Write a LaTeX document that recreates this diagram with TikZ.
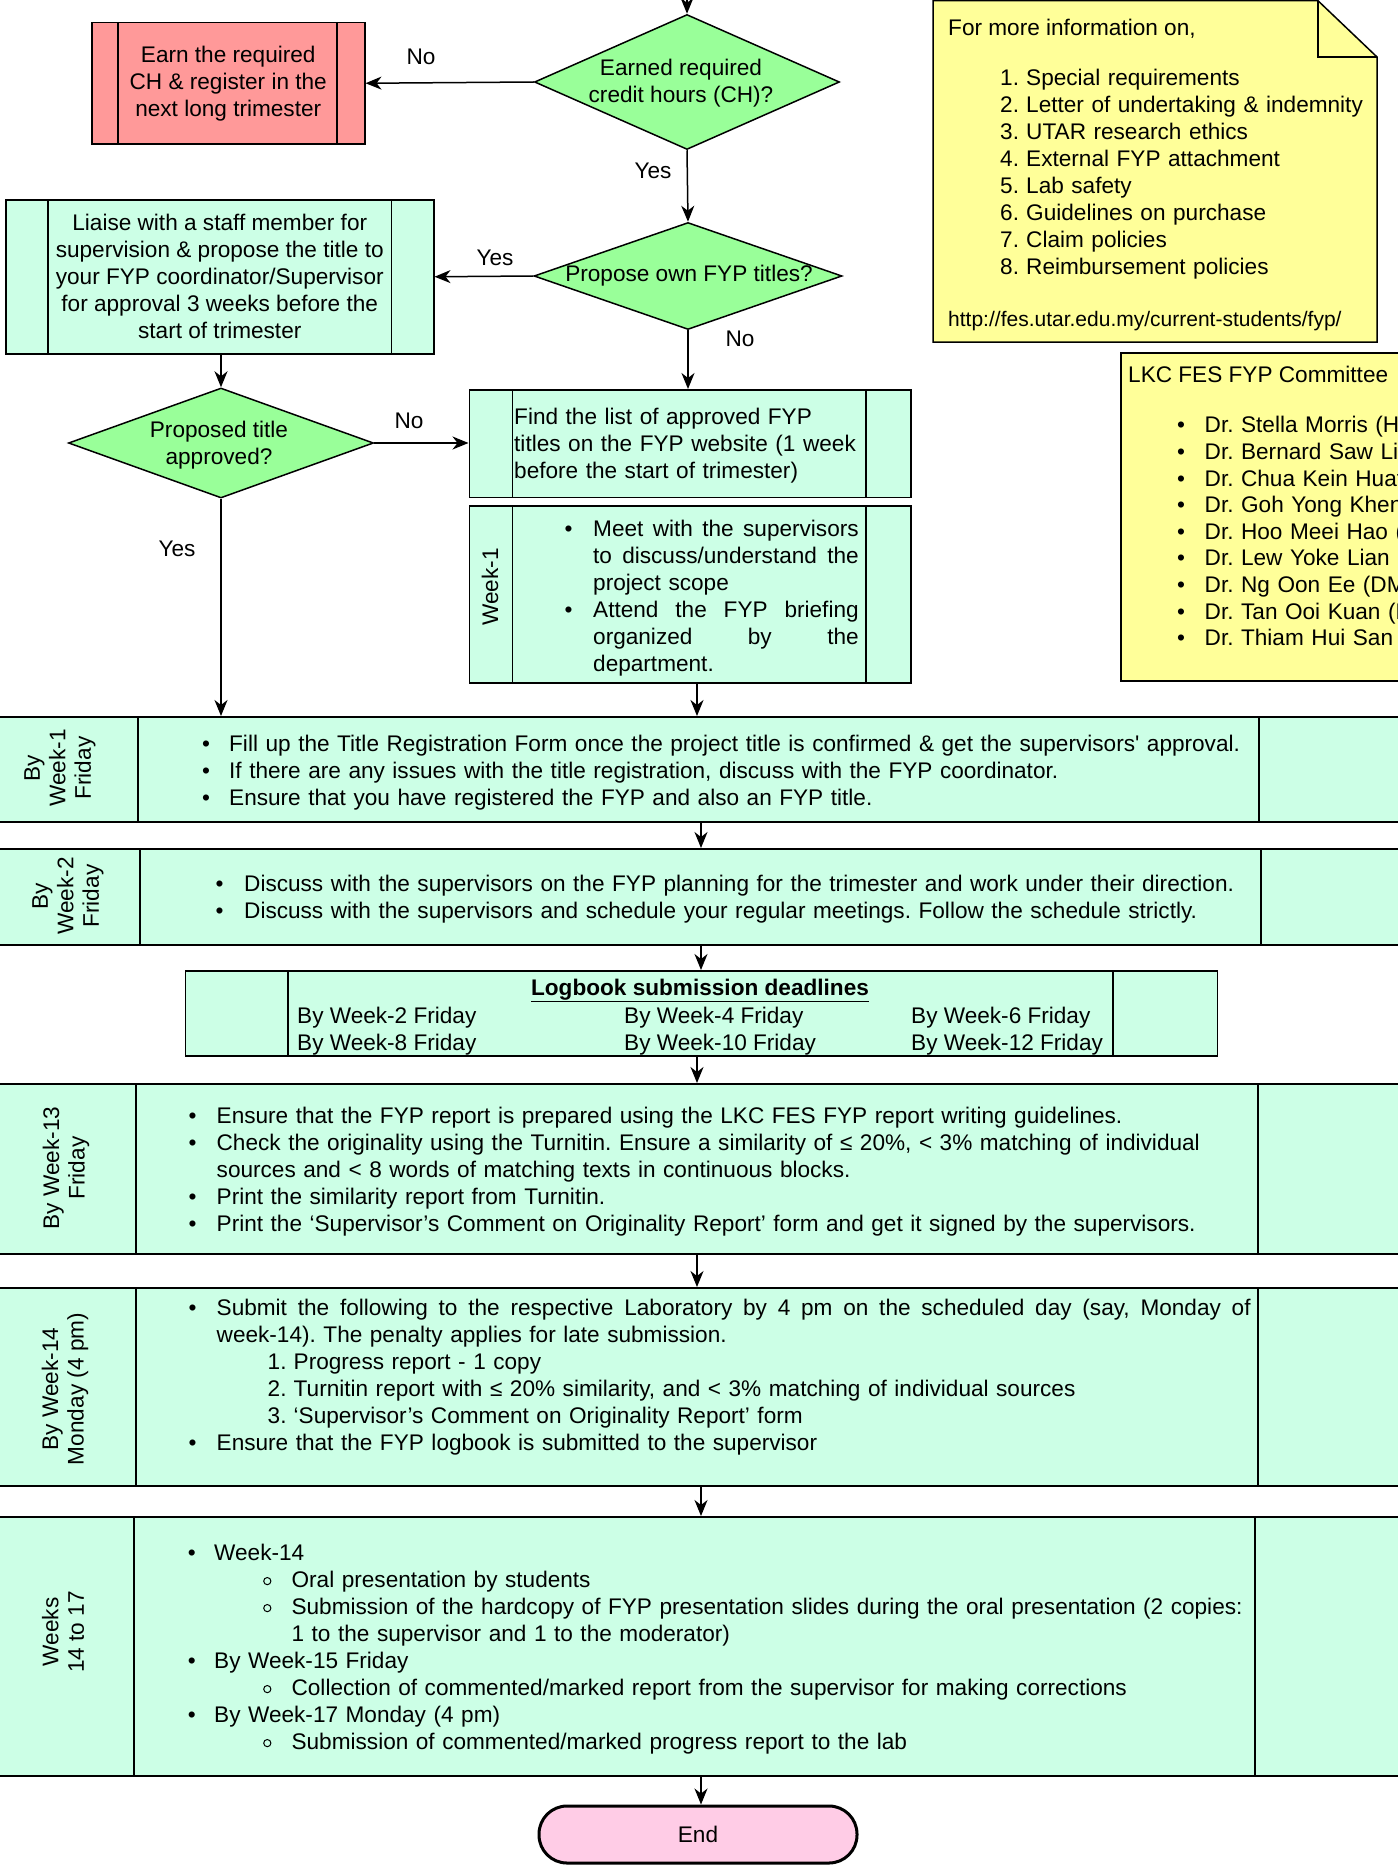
\documentclass[tikz,border=0pt]{standalone}
\usepackage{fontspec}
\newfontfamily\lib{Liberation Sans}
\usetikzlibrary{shapes.geometric,arrows.meta}
\definecolor{gbox}{HTML}{CCFFE6}
\definecolor{gdia}{HTML}{99FF99}
\definecolor{rbox}{HTML}{FF9999}
\definecolor{ybox}{HTML}{FFFF99}
\definecolor{pend}{HTML}{FFCCE6}
\setlength\parindent{0pt}
\frenchspacing
\newcommand\fs{\lib\fontsize{22.6}{27}\selectfont\frenchspacing}
\newcommand\fr{\lib\fontsize{22.6}{25.5}\selectfont}
\newcommand\Bu[2]{\noindent\makebox[#1][l]{\textbullet}#2\strut\par}
\newcommand\Ct[2]{\noindent\hspace*{#1}#2\strut\par}
\newcommand\Sp[2]{\makebox[#1][l]{#2}}
\newcommand\En[4]{\noindent\hspace*{#1}\makebox[#2][l]{#3}#4\strut\par}
\newcommand\Ob{\tikz[baseline=-6pt]\draw[line width=1pt] (0,0) circle (3.6pt);}
\newcommand\Sb[3]{\noindent\hspace*{#1}\makebox[#2][l]{\Ob}#3\strut\par}
\newcommand\bars[3]{\draw[bl] ([xshift=#2]#1.north west) -- ([xshift=#2]#1.south west) ([xshift=#3]#1.north west) -- ([xshift=#3]#1.south west);}
\begin{document}
\begin{tikzpicture}[x=1pt,y=-1pt, every node/.style={font=\fs},
 bl/.style={line width=1.5pt},
 gb/.style={draw, line width=1.5pt, fill=gbox, inner sep=0pt, anchor=north west},
 arr/.style={-{Stealth[length=16pt,width=13pt,inset=5pt]}, line width=1.5pt},
 tx/.style={inner sep=0pt, text width=#1, align=left, anchor=north west},
 dia/.style={diamond, draw, line width=1.5pt, fill=gdia, inner sep=0pt},
 ct/.style={inner sep=0pt, align=center},
 rl/.style={rotate=90, inner sep=0pt, align=center, font=\fr},
 lb/.style={inner sep=0pt, anchor=base west}]
\fill[white] (0,0) rectangle (1397,1865);
\useasboundingbox (0,0) rectangle (1397,1865);

% ---------- top decisions ----------
\coordinate (top) at (687,0);
\node[dia, minimum width=305pt, minimum height=135pt] (d1) at (687,82) {};
\node[ct] (d1t) at (681,83) {Earned required\\credit hours (CH)?};
\node[gb, fill=rbox, minimum width=273pt, minimum height=121pt, align=center] (red) at (91,22) {Earn the required\\CH \& register in the\\next long trimester};
\bars{red}{27pt}{246pt}
\node[dia, minimum width=308pt, minimum height=107pt] (d2) at (688,276) {};
\node[ct] (d2t) at (689,276) {Propose own FYP titles?};
\node[gb, minimum width=428pt, minimum height=154pt, align=center] (li) at (5,199) {Liaise with a staff member for\\supervision \& propose the title to\\your FYP coordinator/Supervisor\\for approval 3 weeks before the\\start of trimester};
\bars{li}{43pt}{386.5pt}
\node[dia, minimum width=305pt, minimum height=110pt] (d3) at (221,443) {};
\node[ct] (d3t) at (219,445) {Proposed title\\approved?};

\node[gb, minimum width=441.5pt, minimum height=107.5pt] (fi) at (468.5,389) {};
\bars{fi}{44pt}{397.5pt}
\node[tx=400pt] (fit) at (514,405) {\Ct{0pt}{Find the list of approved FYP}\Ct{0pt}{titles on the FYP website (1 week}\Ct{0pt}{before the start of trimester)}};

\node[gb, minimum width=441.5pt, minimum height=177pt] (w1) at (468.5,505) {};
\bars{w1}{44pt}{397.5pt}
\node[rl] (w1l) at (490,587) {Week-1};
\node[tx=300pt] (w1t) at (564.5,517) {%
\Bu{28.5pt}{\Sp{265.5pt}{Meet\hfill with\hfill the\hfill supervisors}}%
\Ct{28.5pt}{\Sp{265.5pt}{to\hfill discuss/understand\hfill the}}%
\Ct{28.5pt}{project scope}%
\Bu{28.5pt}{\Sp{265.5pt}{Attend\hfill the\hfill FYP\hfill briefing}}%
\Ct{28.5pt}{\Sp{265.5pt}{organized\hfill by\hfill the}}%
\Ct{28.5pt}{department.}};

% ---------- notes ----------
\coordinate (note) at (933,0);
\draw[line width=1.5pt, fill=ybox] (933,0.75) -- (1318,0.75) -- (1377,57) -- (1377,342) -- (933,342) -- cycle;
\draw[line width=1.5pt] (1318,0.75) -- (1318,57) -- (1377,57);
\node[lb] (nh) at (948,36) {For more information on,};
\node[tx=370pt] (ni) at (1000,66) {%
\En{0pt}{26pt}{1.}{Special requirements}%
\En{0pt}{26pt}{2.}{Letter of undertaking \& indemnity}%
\En{0pt}{26pt}{3.}{UTAR research ethics}%
\En{0pt}{26pt}{4.}{External FYP attachment}%
\En{0pt}{26pt}{5.}{Lab safety}%
\En{0pt}{26pt}{6.}{Guidelines on purchase}%
\En{0pt}{26pt}{7.}{Claim policies}%
\En{0pt}{26pt}{8.}{Reimbursement policies}};
\node[lb, font=\lib\fontsize{21}{25}\selectfont] (url) at (948,326) {http://fes.utar.edu.my/current-students/fyp/};

\node[draw, line width=1.5pt, fill=ybox, inner sep=0pt, anchor=north west, minimum width=300pt, minimum height=328pt] (cm) at (1120,352) {};
\node[lb] (cmh) at (1128,382) {LKC FES FYP Committee};
\node[tx=260pt, font=\lib\fontsize{22.6}{26.6}\selectfont\frenchspacing] (cmt) at (1177,414) {%
\Bu{27.5pt}{Dr. Stella Morris (H}%
\Bu{27.5pt}{Dr. Bernard Saw Lip}%
\Bu{27.5pt}{Dr. Chua Kein Huat}%
\Bu{27.5pt}{Dr. Goh Yong Khen}%
\Bu{27.5pt}{Dr. Hoo Meei Hao (}%
\Bu{27.5pt}{Dr. Lew Yoke Lian (}%
\Bu{27.5pt}{Dr. Ng Oon Ee (DM}%
\Bu{27.5pt}{Dr. Tan Ooi Kuan (D}%
\Bu{27.5pt}{Dr. Thiam Hui San}};

% ---------- rows ----------
\node[gb, minimum width=1416pt, minimum height=105pt] (r1) at (-3,716) {};
\bars{r1}{141pt}{1262pt}
\node[rl] (r1l) at (60,768) {By\\Week-1\\Friday};
\node[tx=1190pt] (r1t) at (202,732) {%
\Bu{27pt}{Fill up the Title Registration Form once the project title is confirmed \& get the supervisors' approval.}%
\Bu{27pt}{If there are any issues with the title registration, discuss with the FYP coordinator.}%
\Bu{27pt}{Ensure that you have registered the FYP and also an FYP title.}};

\node[gb, minimum width=1416pt, minimum height=96pt] (r2) at (-3,848) {};
\bars{r2}{143pt}{1264pt}
\node[rl] (r2l) at (68,896) {By\\Week-2\\Friday};
\node[tx=1180pt] (r2t) at (215.4,872) {%
\Bu{28.6pt}{Discuss with the supervisors on the FYP planning for the trimester and work under their direction.}%
\Bu{28.6pt}{Discuss with the supervisors and schedule your regular meetings. Follow the schedule strictly.}};

\node[gb, minimum width=1032pt, minimum height=85pt] (lg) at (184.5,970) {};
\bars{lg}{103.5pt}{928.5pt}
\node[inner sep=0pt, anchor=base] (lgt) at (700,995) {\bfseries\underline{Logbook submission deadlines}};
\node[lb] (lg1) at (297,1023) {By Week-2 Friday};
\node[lb] (lg2) at (624,1023) {By Week-4 Friday};
\node[lb] (lg3) at (911,1023) {By Week-6 Friday};
\node[lb] (lg4) at (297,1050) {By Week-8 Friday};
\node[lb] (lg5) at (624,1050) {By Week-10 Friday};
\node[lb] (lg6) at (911,1050) {By Week-12 Friday};

\node[gb, minimum width=1416pt, minimum height=170pt] (r3) at (-3,1083) {};
\bars{r3}{139pt}{1261pt}
\node[rl] (r3l) at (66,1168) {By Week-13\\Friday};
\node[tx=1190pt] (r3t) at (188.5,1104) {%
\Bu{28pt}{Ensure that the FYP report is prepared using the LKC FES FYP report writing guidelines.}%
\Bu{28pt}{Check the originality using the Turnitin. Ensure a similarity of ≤ 20\%, < 3\% matching of individual}%
\Ct{28pt}{sources and < 8 words of matching texts in continuous blocks.}%
\Bu{28pt}{Print the similarity report from Turnitin.}%
\Bu{28pt}{Print the ‘Supervisor’s Comment on Originality Report’ form and get it signed by the supervisors.}};

\node[gb, minimum width=1416pt, minimum height=198pt] (r4) at (-3,1287) {};
\bars{r4}{139pt}{1261pt}
\node[rl] (r4l) at (65,1389) {By Week-14\\Monday (4 pm)};
\node[tx=1190pt] (r4t) at (188.5,1296) {%
\Bu{28pt}{\Sp{1034pt}{Submit\hfill the\hfill following\hfill to\hfill the\hfill respective\hfill Laboratory\hfill by\hfill 4\hfill pm\hfill on\hfill the\hfill scheduled\hfill day\hfill (say,\hfill Monday\hfill of}}%
\Ct{28pt}{week-14). The penalty applies for late submission.}%
\En{79pt}{26pt}{1.}{Progress report - 1 copy}%
\En{79pt}{26pt}{2.}{Turnitin report with ≤ 20\% similarity, and < 3\% matching of individual sources}%
\En{79pt}{26pt}{3.}{‘Supervisor’s Comment on Originality Report’ form}%
\Bu{28pt}{Ensure that the FYP logbook is submitted to the supervisor}};

\node[gb, minimum width=1416pt, minimum height=259pt] (r5) at (-3,1516) {};
\bars{r5}{137pt}{1258pt}
\node[rl] (r5l) at (63,1632) {Weeks\\14 to 17};
\node[tx=1190pt] (r5t) at (187.6,1541) {%
\Bu{26.4pt}{Week-14}%
\Sb{75.4pt}{28.4pt}{Oral presentation by students}%
\Sb{75.4pt}{28.4pt}{Submission of the hardcopy of FYP presentation slides during the oral presentation (2 copies:}%
\Ct{103.8pt}{1 to the supervisor and 1 to the moderator)}%
\Bu{26.4pt}{By Week-15 Friday}%
\Sb{75.4pt}{28.4pt}{Collection of commented/marked report from the supervisor for making corrections}%
\Bu{26.4pt}{By Week-17 Monday (4 pm)}%
\Sb{75.4pt}{28.4pt}{Submission of commented/marked progress report to the lab}};

\node[draw, line width=3pt, fill=pend, rounded corners=28pt, minimum width=318pt, minimum height=57pt, inner sep=0pt] (end) at (698,1834.5) {End};

% ---------- connectors ----------
\coordinate (cA) at (697,0);
\coordinate (cB) at (701,0);
\draw[arr] (top) -- (d1.north);
\draw[arr] (d1.west) -- (red.east);
\node (lno1) at (421,57) {No};
\draw[arr] (d1.south) -- (d2.north);
\node (lyes1) at (653,171) {Yes};
\draw[arr] (d2.west) -- (li.east);
\node (lyes2) at (495,258) {Yes};
\draw[arr] (d2.south) -- (d2.south |- fi.north);
\node (lno2) at (740,339) {No};
\draw[arr] (li.south -| d3.north) -- (d3.north);
\draw[arr] (d3.east) -- (d3.east -| fi.west);
\node (lno3) at (409,421) {No};
\draw[arr] (d3.south) -- (d3.south |- r1.north);
\node (lyes3) at (177,549) {Yes};
\draw[arr] (w1.south -| cA) -- (r1.north -| cA);
\draw[arr] (r1.south -| cB) -- (r2.north -| cB);
\draw[arr] (r2.south -| cB) -- (lg.north -| cB);
\draw[arr] (lg.south -| cA) -- (r3.north -| cA);
\draw[arr] (r3.south -| cA) -- (r4.north -| cA);
\draw[arr] (r4.south -| cB) -- (r5.north -| cB);
\draw[arr] (r5.south -| cB) -- (cB |- end.north);
\end{tikzpicture}
\end{document}
